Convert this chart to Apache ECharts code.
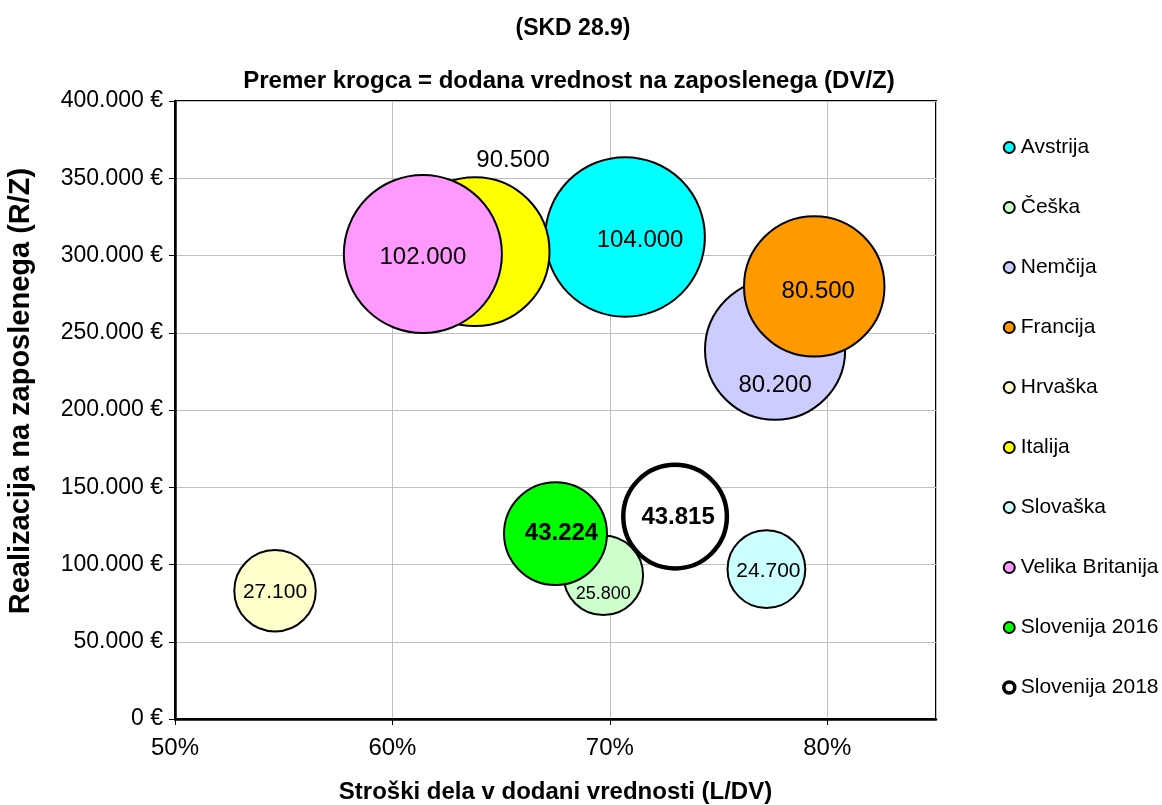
<!DOCTYPE html>
<html>
<head>
<meta charset="utf-8">
<script src="https://cdn.jsdelivr.net/npm/echarts@6/dist/echarts.min.js"></script>
<style>
html,body{margin:0;padding:0;background:#fff;overflow:hidden;}
#chart{width:1162px;height:805px;}
</style>
</head>
<body>
<div id="chart"></div>
<script>
// ---- data ----
const countries = ['Avstrija', 'Češka', 'Nemčija', 'Francija', 'Hrvaška', 'Italija', 'Slovaška', 'Velika Britanija', 'Slovenija 2016', 'Slovenija 2018'];
const laborCostShare = [70.7, 69.7, 77.6, 79.4, 54.6, 63.8, 77.2, 61.4, 67.5, 73.0];          // L/DV, %
const revenuePerEmployee = [312000, 93000, 239000, 280000, 83000, 302500, 97000, 301000, 120000, 131000]; // R/Z, €
const valueAddedPerEmployee = [104000, 25800, 80200, 80500, 27100, 90500, 24700, 102000, 43224, 43815];  // DV/Z, €
const xTicks = [50, 60, 70, 80];
const yTicks = [0, 50000, 100000, 150000, 200000, 250000, 300000, 350000, 400000];

// ---- styles ----
const FONT = 'Liberation Sans, Arial, sans-serif';
const colors = ['#00FFFF', '#CCFFCC', '#CCCCFF', '#FF9900', '#FFFFCC', '#FFFF00', '#CCFFFF', '#FF99FF', '#00FF00', '#FFFFFF'];
const borderWidths = [2, 2, 2, 2, 2, 2, 2, 2, 2, 4.5];
const legendBorderWidths = [2, 2, 2, 2, 2, 2, 2, 2, 2, 3.5];
const labelStyles = [
  {fontSize: 24, offset: [15, 3]},
  {fontSize: 18, offset: [0, 19]},
  {fontSize: 24, offset: [0, 36]},
  {fontSize: 24, offset: [4, 5]},
  {fontSize: 21, offset: [0, 1]},
  {fontSize: 24, offset: [38, -91]},
  {fontSize: 21, offset: [2, 2]},
  {fontSize: 24, offset: [0, 3]},
  {fontSize: 24, offset: [6, 0], fontWeight: 'bold'},
  {fontSize: 24, offset: [3, 1], fontWeight: 'bold'}
];

function fmt(n) {
  return String(n).replace(/\B(?=(\d{3})+(?!\d))/g, '.');
}

const series = countries.map((name, i) => ({
  name: name,
  type: 'scatter',
  data: [[laborCostShare[i], revenuePerEmployee[i], valueAddedPerEmployee[i]]],
  symbol: 'circle',
  symbolSize: d => 0.495 * Math.sqrt(d[2]),
  itemStyle: {color: colors[i], borderColor: '#000', borderWidth: borderWidths[i], opacity: 1},
  emphasis: {disabled: true},
  label: {
    show: true,
    position: 'inside',
    offset: labelStyles[i].offset,
    formatter: p => fmt(p.value[2]),
    color: '#000',
    fontFamily: FONT,
    fontSize: labelStyles[i].fontSize,
    fontWeight: labelStyles[i].fontWeight || 'normal'
  },
  z: 2 + i
}));

const chart = echarts.init(document.getElementById('chart'), null, {renderer: 'canvas'});
chart.setOption({
  animation: false,
  backgroundColor: '#fff',
  title: [
    {text: '(SKD 28.9)', left: 568, top: 12, textAlign: 'center',
     textStyle: {fontFamily: FONT, fontSize: 23, fontWeight: 'bold', color: '#000'}},
    {text: 'Premer krogca = dodana vrednost na zaposlenega (DV/Z)', left: 564, top: 64, textAlign: 'center',
     textStyle: {fontFamily: FONT, fontSize: 24, fontWeight: 'bold', color: '#000'}}
  ],
  legend: {
    orient: 'vertical',
    left: 997,
    top: 132,
    itemWidth: 13,
    itemHeight: 11,
    itemGap: 39,
    icon: 'circle',
    selectedMode: false,
    data: countries.map((name, i) => ({
      name: name,
      itemStyle: {color: colors[i], borderColor: '#000', borderWidth: legendBorderWidths[i]}
    })),
    textStyle: {fontFamily: FONT, fontSize: 21, lineHeight: 21, color: '#000'}
  },
  grid: {
    left: 175, top: 101, width: 761, height: 618,
    show: true, borderColor: '#000', borderWidth: 2,
    containLabel: false, outerBoundsMode: 'none'
  },
  xAxis: {
    type: 'value',
    min: xTicks[0],
    max: 85,
    interval: xTicks[1] - xTicks[0],
    name: 'Stroški dela v dodani vrednosti (L/DV)',
    nameLocation: 'middle',
    nameGap: 61,
    nameTextStyle: {fontFamily: FONT, fontSize: 24, fontWeight: 'bold', color: '#000'},
    axisLine: {show: true, onZero: false, lineStyle: {color: '#000', width: 2.5}},
    axisTick: {show: true, inside: false, length: 6, lineStyle: {color: '#000', width: 1}},
    axisLabel: {
      margin: 17, fontFamily: FONT, fontSize: 24, color: '#000',
      showMaxLabel: false,
      formatter: v => (xTicks.indexOf(Math.round(v)) >= 0 ? Math.round(v) + '%' : '')
    },
    splitLine: {show: true, lineStyle: {color: '#C0C0C0', width: 1}}
  },
  yAxis: {
    type: 'value',
    min: yTicks[0],
    max: yTicks[yTicks.length - 1],
    interval: yTicks[1] - yTicks[0],
    name: 'Realizacija na zaposlenega (R/Z)',
    nameLocation: 'middle',
    nameGap: 140,
    nameRotate: 90,
    nameTextStyle: {fontFamily: FONT, fontSize: 29, fontWeight: 'bold', color: '#000', padding: [0, 0, 0, 38]},
    axisLine: {show: true, onZero: false, lineStyle: {color: '#000', width: 2.5}},
    axisTick: {show: true, inside: false, length: 6, lineStyle: {color: '#000', width: 1}},
    axisLabel: {
      margin: 12, fontFamily: FONT, fontSize: 23, color: '#000',
      formatter: v => fmt(v) + ' €'
    },
    splitLine: {show: true, lineStyle: {color: '#C0C0C0', width: 1}}
  },
  series: series
});
</script>
</body>
</html>
